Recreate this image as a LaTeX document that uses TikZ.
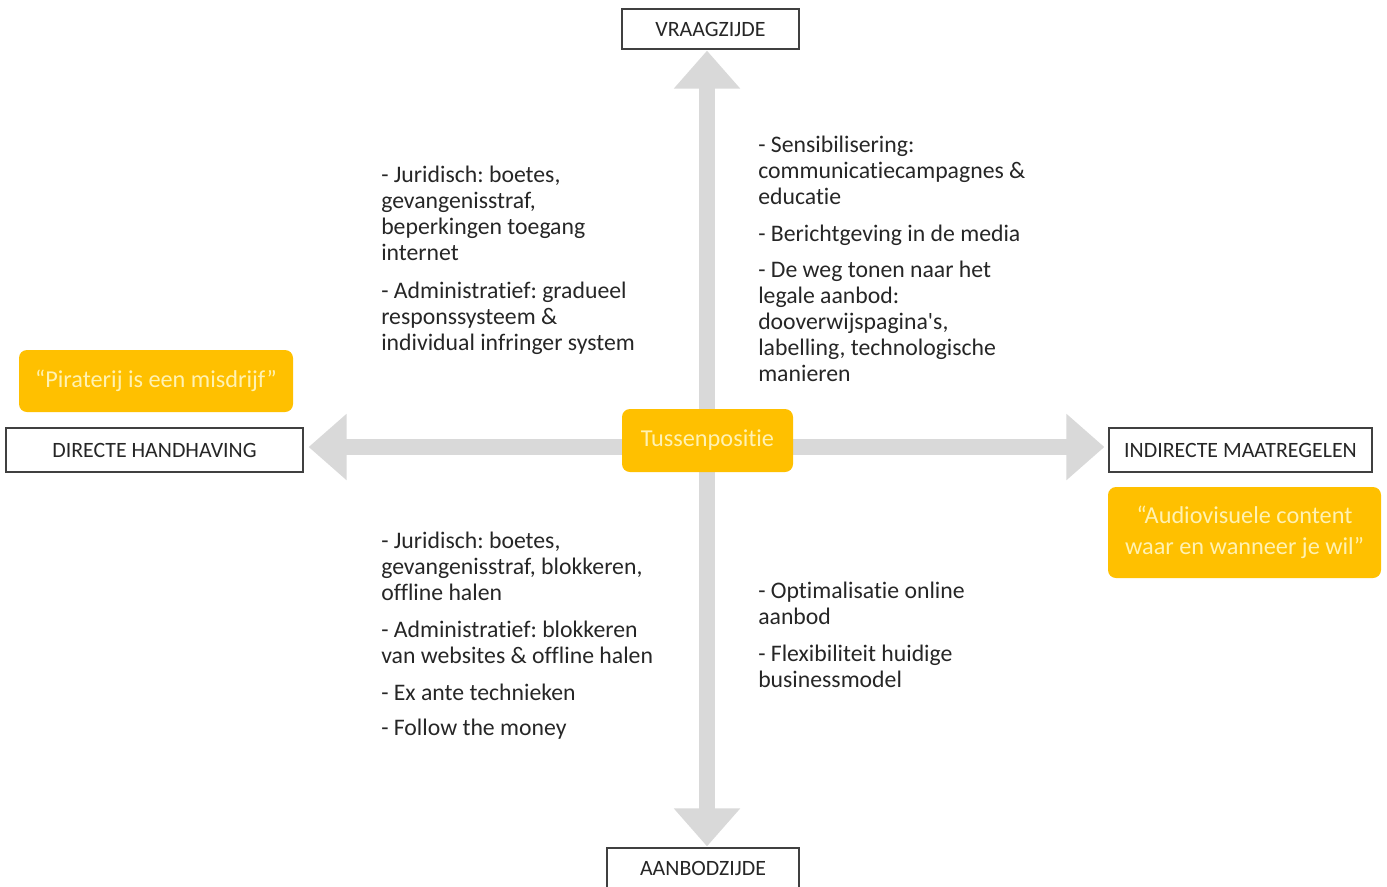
\documentclass[tikz,border=0pt]{standalone}
\usepackage{fontspec}
\setmainfont{Carlito}[Ligatures={NoCommon}]
\frenchspacing
\usetikzlibrary{arrows.meta}
\definecolor{goud}{HTML}{FFC000}
\definecolor{goudtekst}{HTML}{FFF2B2}
\definecolor{pijlgrijs}{HTML}{D9D9D9}
\definecolor{rand}{HTML}{404040}
\begin{document}
\begin{tikzpicture}[
  x=0.75pt, y=-0.75pt,
  as/.style = {draw=rand, line width=0.9pt, fill=white, inner sep=0pt,
    text=black!85, font=\fontsize{16.4pt}{18pt}\selectfont},
  citaat/.style = {fill=goud, rounded corners=6pt, inner sep=0pt,
    align=center, text=goudtekst, font=\fontsize{18.2pt}{23.25pt}\selectfont},
  lijst/.style = {anchor=north west, inner sep=0pt, align=left,
    text=black!85, font=\fontsize{17.8pt}{19.5pt}\selectfont},
  pijl/.style = {draw=pijlgrijs, line width=12pt,
    -{Triangle[length=28.5pt, width=48pt]}}
  ]
  \useasboundingbox (0,0) rectangle (1387,886);
  \clip (0,0) rectangle (1387,886);
  \coordinate (hub) at (707,447);

  \node[as, minimum width=132.75pt, minimum height=30pt] (vraag) at (710.5,29) {VRAAGZIJDE};
  \node[as, minimum width=144pt, minimum height=30pt] (aanbod) at (703,868) {AANBODZIJDE};
  \node[as, minimum width=222.75pt, minimum height=33pt] (direct) at (154.5,450) {DIRECTE HANDHAVING};
  \node[as, minimum width=197.25pt, minimum height=33pt] (indirect) at (1240.5,450) {INDIRECTE MAATREGELEN};

  \draw[pijl, shorten >=0.75pt] (hub) -- (hub |- vraag.south);
  \draw[pijl, shorten >=0.75pt] (hub) -- (hub |- aanbod.north);
  \draw[pijl, shorten >=3.75pt] (hub) -- (hub -| direct.east);
  \draw[pijl, shorten >=3pt] (hub) -- (hub -| indirect.west);

  \node[citaat, minimum width=128.25pt, minimum height=47.25pt] (tussen) at (707.5,440.5) {Tussenpositie};
  \node[citaat, minimum width=205.5pt, minimum height=46.5pt] (misdrijf) at (156,381) {“Piraterij is een misdrijf”};
  \node[citaat, minimum width=204.75pt, minimum height=68.25pt] (content) at (1244.5,532.5) {“Audiovisuele content\\waar en wanneer je wil”};

  \node[lijst] (vraagdirect) at (381,166) {- Juridisch: boetes,\\gevangenisstraf,\\beperkingen toegang\\internet\\[9pt]
    - Administratief: gradueel\\responssysteem \&\\individual infringer system};
  \node[lijst] (vraagindirect) at (758,136) {- Sensibilisering:\\communicatiecampagnes \&\\educatie\\[8pt]
    - Berichtgeving in de media\\[7.5pt]
    - De weg tonen naar het\\legale aanbod:\\dooverwijspagina\textquotesingle s,\\labelling, technologische\\manieren};
  \node[lijst] (aanboddirect) at (381,532) {- Juridisch: boetes,\\gevangenisstraf, blokkeren,\\offline halen\\[8pt]
    - Administratief: blokkeren\\van websites \& offline halen\\[8pt]
    - Ex ante technieken\\[7pt]
    - Follow the money};
  \node[lijst] (aanbodindirect) at (758,582) {- Optimalisatie online\\aanbod\\[8pt]
    - Flexibiliteit huidige\\businessmodel};
\end{tikzpicture}
\end{document}
